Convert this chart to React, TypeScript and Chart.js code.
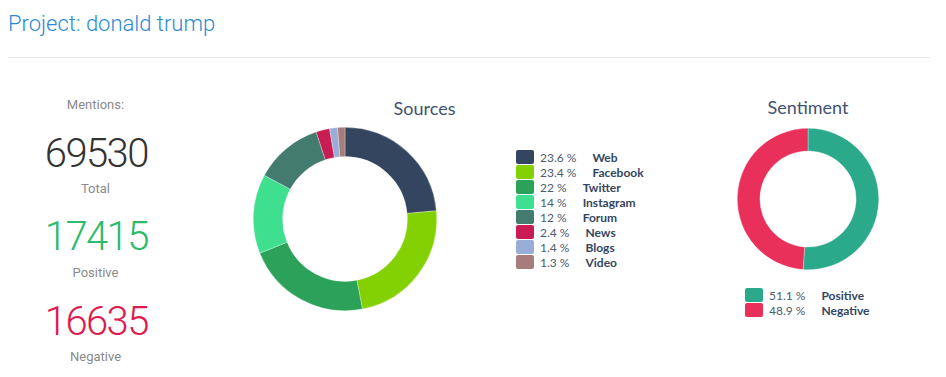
import React, { useEffect, useRef } from "react";
import Chart from "chart.js/auto";

const projectTitle = "Project: donald trump";

const mentionLabels = ["Total", "Positive", "Negative"];
const mentionValues = [69530, 17415, 16635];

const sourceLabels = ["Web", "Facebook", "Twitter", "Instagram", "Forum", "News", "Blogs", "Video"];
const sourceValues = [23.6, 23.4, 22, 14, 12, 2.4, 1.4, 1.3];
const sourceColors = ["#34465f", "#83d102", "#2ba159", "#3ee08f", "#437c6f", "#c81d52", "#99aed6", "#a67d7c"];

const sentimentLabels = ["Positive", "Negative"];
const sentimentValues = [51.1, 48.9];
const sentimentColors = ["#2aaa8a", "#e9305a"];

const mentionColors = ["#333333", "#2dba6c", "#e0194d"];

function Doughnut({ labels, values, colors, left, top, size }: { labels: string[]; values: number[]; colors: string[]; left: number; top: number; size: number }) {
  const ref = useRef<HTMLCanvasElement | null>(null);
  useEffect(() => {
    if (!ref.current) return;
    const chart = new Chart(ref.current, {
      type: "doughnut",
      data: {
        labels,
        datasets: [
          {
            data: values,
            backgroundColor: colors,
            borderColor: "rgba(255,255,255,0.6)",
            borderWidth: 0.5,
            hoverOffset: 0,
            offset: 0,
          },
        ],
      },
      options: {
        responsive: false,
        animation: false,
        cutout: "68%",
        layout: { padding: 0 },
        plugins: { legend: { display: false }, tooltip: { enabled: false } },
      },
    });
    return () => chart.destroy();
  }, []);
  return (
    <canvas
      ref={ref}
      width={size}
      height={size}
      style={{ position: "absolute", left, top, width: size, height: size }}
    />
  );
}

function Legend({ labels, values, colors, left, top }: { labels: string[]; values: number[]; colors: string[]; left: number; top: number }) {
  return (
    <div style={{ position: "absolute", left, top, fontFamily: "Lato, sans-serif", fontSize: 12 }}>
      {labels.map((l, i) => (
        <div key={l} style={{ display: "flex", alignItems: "center", height: 15 }}>
          <div style={{ width: 18, height: 14, background: colors[i], borderRadius: 2, marginRight: 6 }} />
          <span style={{ color: "#4d5b6e" }}>{values[i]} %</span>
          <span style={{ color: "#34465f", fontWeight: 700, marginLeft: 16 }}>{l}</span>
        </div>
      ))}
    </div>
  );
}

export default function App() {
  const centerText = (text: string, top: number, size: number, color: string, weight: number, ls = 0) => (
    <div
      style={{
        position: "absolute",
        left: ls ? -ls / 2 : 0,
        width: 191,
        top,
        textAlign: "center",
        fontFamily: "Roboto, sans-serif",
        fontSize: size,
        lineHeight: `${size}px`,
        color,
        fontWeight: weight,
        letterSpacing: ls,
        whiteSpace: "nowrap",
      }}
    >
      {text}
    </div>
  );
  const numSize = 40;
  const numLs = -1.6;
  return (
    <div style={{ position: "absolute", left: 0, top: 0, width: 946, height: 377, background: "#fff", overflow: "hidden" }}>
      <div
        style={{
          position: "absolute",
          left: 8,
          top: 13,
          fontFamily: "Roboto, sans-serif",
          fontWeight: 300,
          fontSize: 22,
          lineHeight: "22px",
          color: "#2b8ad6",
          whiteSpace: "nowrap",
        }}
      >
        {projectTitle}
      </div>
      <div style={{ position: "absolute", left: 8, top: 57, width: 922, height: 1, background: "#e8e8e8" }} />

      {centerText("Mentions:", 98, 13, "#8a8a8a", 400)}
      {centerText(String(mentionValues[0]), 134, numSize, mentionColors[0], 300, numLs)}
      {centerText(mentionLabels[0], 182, 13, "#8a8a8a", 400)}
      {centerText(String(mentionValues[1]), 217, numSize, mentionColors[1], 300, numLs)}
      {centerText(mentionLabels[1], 266, 13, "#8a8a8a", 400)}
      {centerText(String(mentionValues[2]), 302, numSize, mentionColors[2], 300, numLs)}
      {centerText(mentionLabels[2], 350, 13, "#8a8a8a", 400)}

      <div
        style={{
          position: "absolute",
          left: 324.5,
          width: 200,
          top: 99,
          textAlign: "center",
          fontFamily: "Lato, sans-serif",
          fontSize: 18,
          lineHeight: "18px",
          color: "#3f5270",
        }}
      >
        Sources
      </div>
      <div
        style={{
          position: "absolute",
          left: 708,
          width: 200,
          top: 98,
          textAlign: "center",
          fontFamily: "Lato, sans-serif",
          fontSize: 18,
          lineHeight: "18px",
          color: "#3f5270",
        }}
      >
        Sentiment
      </div>

      <Doughnut labels={sourceLabels} values={sourceValues} colors={sourceColors} left={253} top={127} size={184} />
      <Legend labels={sourceLabels} values={sourceValues} colors={sourceColors} left={516} top={149.5} />

      <Doughnut labels={sentimentLabels} values={sentimentValues} colors={sentimentColors} left={737} top={128} size={142} />
      <Legend labels={sentimentLabels} values={sentimentValues} colors={sentimentColors} left={745} top={287.5} />
    </div>
  );
}
